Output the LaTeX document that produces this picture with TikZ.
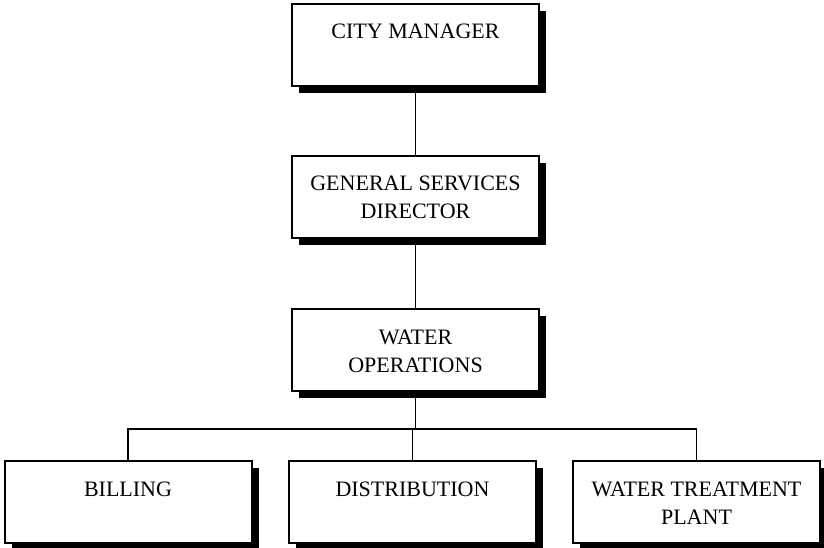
\documentclass[tikz,border=0pt]{standalone}
\usepackage{fontspec}
\setmainfont{Liberation Serif}
\usetikzlibrary{shadows}
\newcommand{\stacked}[1]{\begin{tabular}[t]{@{}c@{}}#1\end{tabular}}
\begin{document}
\begin{tikzpicture}[x=1pt, y=-1pt,
      unit/.style={draw, line width=2pt, fill=white, inner sep=0pt,
         minimum width=247pt, minimum height=82pt,
         text height=35pt, text depth=47pt,
         font=\fontsize{22}{28}\selectfont,
         drop shadow={shadow xshift=7pt, shadow yshift=-7pt, fill=black, opacity=1}},
      link/.style={line width=1.9pt}]
   \useasboundingbox (0,0) rectangle (824,548);
   \node[unit] (cm) at (415.5,45) {CITY MANAGER};
   \node[unit] (gsd) at (415.5,197) {\stacked{GENERAL SERVICES\\DIRECTOR}};
   \node[unit] (wo) at (415.5,350) {\stacked{WATER\\OPERATIONS}};
   \node[unit] (bill) at (128,502) {BILLING};
   \node[unit] (dist) at (412.5,502) {DISTRIBUTION};
   \node[unit] (wtp) at (696.5,502) {\stacked{WATER TREATMENT\\PLANT}};
   \coordinate (bus) at (0,429);
   \draw[link] (cm) -- (gsd);
   \draw[link] (gsd) -- (wo);
   \draw[link] (wo.south) -- (wo.south |- bus);
   \draw[link] (bill.north) -- (bill.north |- bus) -- (wtp.north |- bus) -- (wtp.north);
   \draw[link] (dist.north) -- (dist.north |- bus);
\end{tikzpicture}
\end{document}
